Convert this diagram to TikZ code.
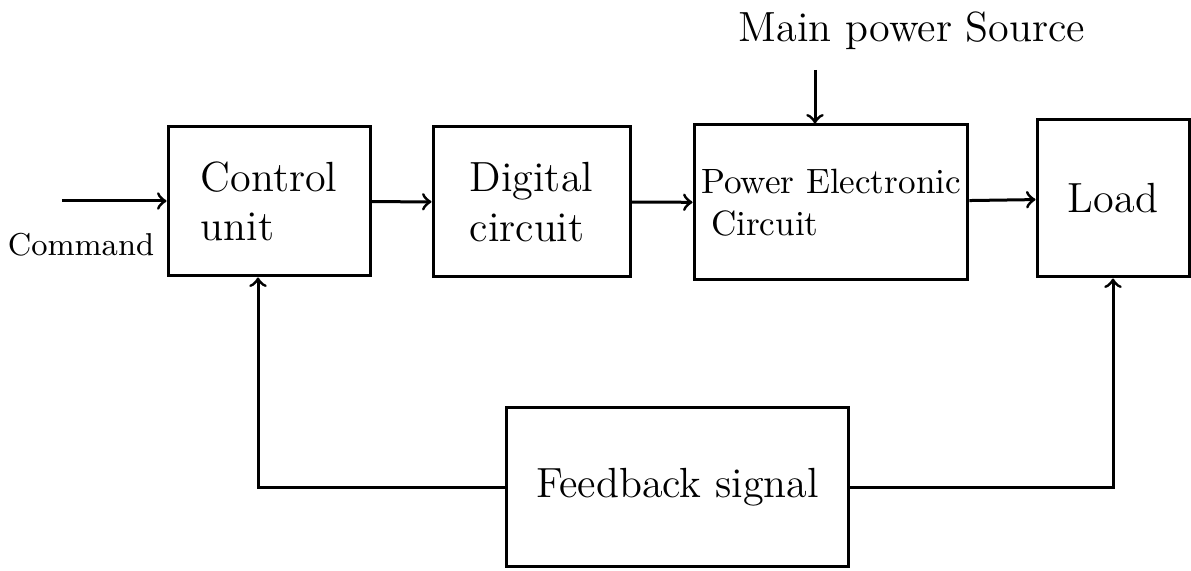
\documentclass[tikz,border=0pt]{standalone}
\usepackage{tikz}
\usetikzlibrary{positioning}
\tikzset{
	blockbox/.style={draw, line width=0.3mm, align=left, font=\large, inner sep=2pt},
	flowline/.style={line width=0.3mm, ->},
}

\begin{document}
\begin{tikzpicture}
		%%%%% START %%%%%
		\useasboundingbox (0, 0) rectangle (11.91, 5.71);
		
		\node[blockbox, minimum width=2.02cm, minimum height=1.49cm] (ctrl) at (2.69, 3.695) {Control\\unit};
		\node[blockbox, minimum width=1.97cm, minimum height=1.50cm] (dig) at (5.315, 3.69) {Digital\\circuit};
		\node[blockbox, font=\normalsize, minimum width=2.72cm, minimum height=1.55cm] (pe) at (8.31, 3.685) {Power Electronic\\\hspace*{0.1cm}Circuit};
		\node[blockbox, minimum width=1.52cm, minimum height=1.57cm] (load) at (11.13, 3.725) {Load};
		\node[blockbox, minimum width=3.41cm, minimum height=1.59cm] (fb) at (6.775, 0.835) {Feedback signal};
		
		\coordinate (cmd) at (0.62, 3.70);
		\node[font=\small] (cmdtext) at (0.81, 3.26) {Command};
		\draw[flowline] (cmd) -- (cmd -| ctrl.west);
		
		\node[font=\large] (src) at (9.12, 5.40) {Main power Source};
		\coordinate (srcend) at (8.15, 5.01);
		\draw[flowline] (srcend) -- (srcend |- pe.north);
		
		\draw[flowline] (ctrl) -- (dig);
		\draw[flowline] (dig) -- (pe);
		\draw[flowline] (pe) -- (load);
		
		\draw[flowline] (fb.west) -| ([xshift=-1.1mm]ctrl.south);
		\draw[flowline] (fb.east) -| (load.south);
		
		%%%%% END %%%%%
	\end{tikzpicture}
\end{document}
